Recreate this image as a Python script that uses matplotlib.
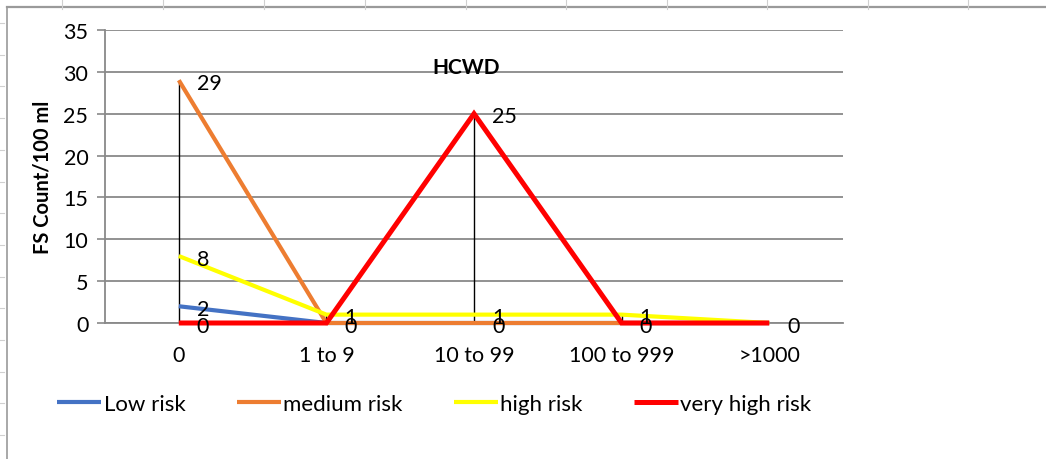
import matplotlib
matplotlib.use("Agg")
import matplotlib.pyplot as plt
from matplotlib.lines import Line2D
import numpy as np

plt.rcParams['font.family'] = ['Lato', 'DejaVu Sans']

categories = ["0", "1 to 9", "10 to 99", "100 to 999", ">1000"]
low_risk = [2, 0, 0, 0, 0]
medium_risk = [29, 0, 0, 0, 0]
high_risk = [8, 1, 1, 1, 0]
very_high_risk = [0, 0, 25, 0, 0]
series_names = ["Low risk", "medium risk", "high risk", "very high risk"]
y_ticks = [0, 5, 10, 15, 20, 25, 30, 35]

W, H = 1046, 460
fig = plt.figure(figsize=(W / 100, H / 100), dpi=100)
fig.patch.set_facecolor("white")

# spreadsheet frame behind chart
def px(x, y):
    return x / W, 1 - y / H

fig.add_artist(Line2D([px(7, 0)[0], 1], [px(0, 8)[1]] * 2, color="#9a9a9a", lw=1.6))
fig.add_artist(Line2D([px(7, 0)[0]] * 2, [px(0, 8)[1], 0], color="#9a9a9a", lw=1.2))
for cx in [62, 163, 264, 365, 466, 566, 667, 767, 868, 968]:
    fig.add_artist(Line2D([cx / W] * 2, [px(0, 1)[1], px(0, 10)[1]], color="#d0d0d0", lw=0.8))
for ry in np.arange(24, 460, 31.7):
    fig.add_artist(Line2D([0, 4 / W], [px(0, ry)[1]] * 2, color="#d0d0d0", lw=0.8))

ax = fig.add_axes([105 / W, 1 - 324 / H, (843 - 105) / W, (324 - 31) / H])
ax.set_facecolor("none")

x = np.arange(len(categories))
data = [low_risk, medium_risk, high_risk, very_high_risk]
colors = ["#4472C4", "#ED7D31", "#FFFF00", "#FF0000"]
widths = [3.0, 3.0, 3.0, 3.6]

# high-low lines
arr = np.array(data)
ax.vlines(x, arr.min(axis=0), arr.max(axis=0), color="black", lw=1.0, zorder=2)

handles = []
for vals, c, lw, name in zip(data, colors, widths, series_names):
    h, = ax.plot(x, vals, color=c, lw=lw, label=name, zorder=3,
                 solid_capstyle="butt", solid_joinstyle="miter", clip_on=False)
    handles.append(h)

seen = set()
for vals in data:
    for xi, v in zip(x, vals):
        if (xi, v) in seen:
            continue
        seen.add((xi, v))
        ax.annotate(str(v), (xi, v), xytext=(13, -2), textcoords="offset points",
                    ha="left", va="center", fontsize=15.5, color="black", zorder=5)

ax.set_xlim(-0.5, 4.5)
ax.set_ylim(0, 35)
ax.set_yticks(y_ticks)
ax.set_xticks(x)
ax.set_xticklabels(categories)
ax.tick_params(axis="x", length=0, pad=16, labelsize=15.5)
ax.tick_params(axis="y", length=6, width=1.2, color="#898989", pad=6, labelsize=15.5)
ax.grid(axis="y", color="#898989", lw=1.3)
ax.set_axisbelow(True)
for s in ["top", "right"]:
    ax.spines[s].set_visible(False)
ax.spines["left"].set_color("#898989")
ax.spines["left"].set_linewidth(1.3)
ax.spines["bottom"].set_color("#898989")
ax.spines["bottom"].set_linewidth(1.3)

ax.set_ylabel("FS Count/100 ml", fontsize=14.5, fontweight="bold", labelpad=8)
ax.text(1.95, 30.6, "HCWD", fontsize=15, fontweight="bold", ha="center", va="center")

fig.legend(handles=handles, labels=series_names, loc="center left",
           bbox_to_anchor=(57 / W, 1 - 405 / H), ncol=4, frameon=False,
           fontsize=16, handlelength=2.0, handletextpad=0.1, columnspacing=2.3,
           borderpad=0, borderaxespad=0)

fig.savefig("out.png", dpi=100)
